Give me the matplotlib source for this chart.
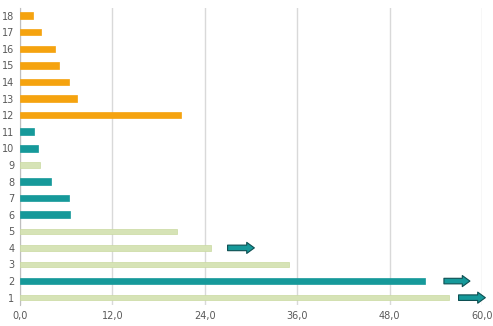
import numpy as np
import matplotlib
matplotlib.use("Agg")
import matplotlib.pyplot as plt

# chart data
rows = list(range(1, 19))
values = [55.7, 52.6, 35.0, 24.8, 20.4, 6.5, 6.4, 4.0, 2.6,
          2.3, 1.8, 20.9, 7.4, 6.4, 5.1, 4.5, 2.7, 1.7]
groups = ["light", "teal", "light", "light", "light", "teal", "teal", "teal", "light",
          "teal", "teal", "orange", "orange", "orange", "orange", "orange", "orange", "orange"]

# arrows: (row, start, end)
arrow_rows = [4, 2, 1]
arrow_start = [26.6, 54.7, 56.6]
arrow_end = [30.8, 58.8, 60.8]

xticks = [0, 12, 24, 36, 48, 60]

colors = {"light": "#D6E3B6", "teal": "#16999A", "orange": "#F5A30F"}
edges = {"light": "#C9DAA0", "teal": "#16999A", "orange": "#F5A30F"}
heights = {"light": 0.32, "teal": 0.4, "orange": 0.38}

fig = plt.figure(figsize=(4.93, 3.26), dpi=100)
ax = fig.add_axes([0.0406, 0.064, 0.937, 0.911])

for r, v, g in zip(rows, values, groups):
    ax.barh(r, v, height=heights[g], color=colors[g], edgecolor=edges[g], linewidth=0.5, zorder=3)

for r, s, e in zip(arrow_rows, arrow_start, arrow_end):
    ax.annotate("", xy=(e, r), xytext=(s, r),
                arrowprops=dict(arrowstyle="simple,tail_width=0.4,head_width=0.8,head_length=0.55",
                                mutation_scale=10, fc="#16999A", ec="#0D4F52", lw=0.8),
                zorder=4, annotation_clip=False)

ax.set_xlim(0, 60)
ax.set_ylim(0.55, 18.45)
ax.set_xticks(xticks)
ax.set_xticklabels([f"{t:.1f}".replace(".", ",") for t in xticks], fontsize=7, color="#595959")
ax.set_yticks(rows)
ax.set_yticklabels([str(r) for r in rows], fontsize=7, color="#595959")
ax.tick_params(length=0, pad=4)
ax.grid(axis="x", color="#D9D9D9", linewidth=1, zorder=0)
for s in ["top", "right", "bottom"]:
    ax.spines[s].set_visible(False)
ax.spines["left"].set_color("#BFBFBF")

fig.savefig("out.png", dpi=100)
